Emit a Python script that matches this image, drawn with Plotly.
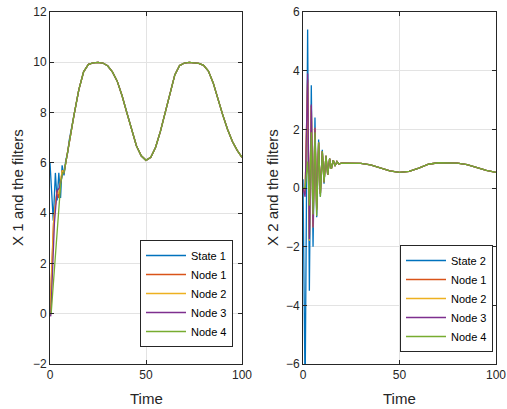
import plotly.graph_objects as go

# ---------------- data ----------------
# X1 : common smooth part after the transient
x1_tail_t = [10, 12.5, 15, 17.5, 20, 22.5, 25, 27.5, 30, 32.5, 35, 37.5, 40, 42.5, 45, 47.5,
             50, 52.5, 55, 57.5, 60, 62.5, 65, 67.5, 70, 72.5, 75, 77.5, 80, 82.5, 85, 87.5,
             90, 92.5, 95, 97.5, 100]
x1_tail_y = [6.9, 7.9, 8.9, 9.62, 9.92, 9.98, 10.0, 9.97, 9.86, 9.62, 9.25, 8.68, 8.0, 7.35,
             6.68, 6.28, 6.1, 6.22, 6.62, 7.25, 8.0, 8.76, 9.5, 9.87, 9.97, 10.0, 9.99, 9.96,
             9.88, 9.65, 9.18, 8.5, 7.9, 7.33, 6.85, 6.5, 6.22]

# X1 : early transients
x1_state_t = [0, 0.9, 1.7, 2.8, 3.7, 4.6, 5.5, 6.3, 7.3, 8.2, 9.2]
x1_state_y = [6.0, 4.5, 3.7, 5.6, 4.5, 5.6, 4.6, 5.9, 5.5, 6.1, 6.4]
x1_node1_t = [0, 1.8, 3.6, 4.6, 5.5, 6.4, 7.3, 8.2, 9.2]
x1_node1_y = [0.0, 3.6, 4.9, 4.6, 5.2, 5.7, 5.6, 6.0, 6.4]
x1_node2_t = [0, 2.0, 3.6, 4.6, 5.5, 6.4, 7.3, 8.2, 9.2]
x1_node2_y = [0.0, 3.8, 4.8, 4.8, 5.3, 5.7, 5.6, 6.0, 6.4]
x1_node3_t = [0, 0.4, 2.3, 3.7, 4.9, 5.8, 6.7, 7.3, 8.2, 9.2]
x1_node3_y = [0.0, -0.1, 3.6, 4.9, 5.0, 5.3, 5.6, 5.6, 6.0, 6.4]
x1_node4_t = [0, 0.6, 5.6, 6.6, 7.3, 8.2, 9.2]
x1_node4_y = [0.0, 0.0, 5.2, 5.6, 5.6, 6.0, 6.4]

# X2 : common smooth part after the transient
x2_tail_t = [20, 25, 30, 35, 40, 45, 50, 55, 60, 65, 70, 75, 80, 85, 90, 95, 100]
x2_tail_y = [0.85, 0.85, 0.84, 0.79, 0.68, 0.58, 0.53, 0.57, 0.68, 0.81, 0.86, 0.86, 0.85,
             0.8, 0.7, 0.6, 0.53]

# X2 : early oscillating transients
x2_trans_t = [0, 1.1, 2.4, 3.3, 4.3, 5.2, 6.2, 7.1, 8.1, 9.0, 10.0, 10.9, 11.9, 12.8, 13.8,
              14.7, 15.7, 16.6, 17.6, 18.5]
x2_state_y = [0.3, -7.0, 5.4, -3.5, 3.5, -2.0, 2.4, -1.0, 1.65, -0.3, 1.3, 0.15, 1.1, 0.45,
              1.0, 0.65, 0.95, 0.75, 0.9, 0.82]
x2_node1_y = [0.0, -0.2, 3.7, -1.7, 2.8, -1.3, 2.0, -0.75, 1.55, -0.2, 1.25, 0.2, 1.1, 0.45,
              1.0, 0.65, 0.95, 0.75, 0.9, 0.82]
x2_node2_y = [0.0, -0.2, 3.6, -1.8, 2.75, -1.35, 2.05, -0.75, 1.55, -0.2, 1.25, 0.2, 1.1,
              0.45, 1.0, 0.65, 0.95, 0.75, 0.9, 0.82]
x2_node3_y = [0.0, -0.3, 3.9, -1.75, 2.85, -1.35, 2.05, -0.7, 1.55, -0.2, 1.25, 0.2, 1.1,
              0.45, 1.0, 0.65, 0.95, 0.75, 0.9, 0.82]
x2_node4_y = [0.0, 0.0, 0.9, -0.6, 1.9, -0.9, 1.9, -0.95, 1.55, -0.3, 1.25, 0.2, 1.1, 0.45,
              1.0, 0.65, 0.95, 0.75, 0.9, 0.82]

names_left = ["State 1", "Node 1", "Node 2", "Node 3", "Node 4"]
names_right = ["State 2", "Node 1", "Node 2", "Node 3", "Node 4"]
colors = ["#0072BD", "#D95319", "#EDB120", "#7E2F8E", "#77AC30"]

left_y_ticks = [-2, 0, 2, 4, 6, 8, 10, 12]
right_y_ticks = [-6, -4, -2, 0, 2, 4, 6]
x_ticks = [0, 50, 100]

# ---------------- figure ----------------
W, H = 507, 409
fig = go.Figure()

left_sets = [(x1_state_t, x1_state_y), (x1_node1_t, x1_node1_y), (x1_node2_t, x1_node2_y),
             (x1_node3_t, x1_node3_y), (x1_node4_t, x1_node4_y)]
for (t, y), nm, c in zip(left_sets, names_left, colors):
    fig.add_trace(go.Scatter(x=t + x1_tail_t, y=y + x1_tail_y, mode="lines", name=nm,
                             line=dict(color=c, width=1.3), xaxis="x", yaxis="y",
                             legend="legend"))

right_sets = [x2_state_y, x2_node1_y, x2_node2_y, x2_node3_y, x2_node4_y]
for y, nm, c in zip(right_sets, names_right, colors):
    fig.add_trace(go.Scatter(x=x2_trans_t + x2_tail_t, y=y + x2_tail_y, mode="lines", name=nm,
                             line=dict(color=c, width=1.3), xaxis="x2", yaxis="y2",
                             legend="legend2"))

axis_common = dict(showline=True, linecolor="#262626", linewidth=1, mirror="ticks",
                   ticks="inside", ticklen=4, tickcolor="#262626", showgrid=True,
                   gridcolor="#e3e3e3", gridwidth=1, zeroline=False,
                   tickfont=dict(family="Liberation Sans, Arial", size=12, color="#262626"),
                   automargin=False)

ld = [50 / W, 242 / W]
rd = [303 / W, 496 / W]
yd = [1 - 364 / H, 1 - 12 / H]

leg_font = dict(family="Liberation Sans, Arial", size=11, color="#000000")
fig.update_layout(
    width=W, height=H, margin=dict(l=0, r=0, t=0, b=0),
    paper_bgcolor="white", plot_bgcolor="white",
    font=dict(family="Liberation Sans, Arial", color="#262626"),
    xaxis=dict(domain=ld, range=[0, 100], tickvals=x_ticks, anchor="y", **axis_common),
    yaxis=dict(domain=yd, range=[-2, 12], tickvals=left_y_ticks, anchor="x", **axis_common),
    xaxis2=dict(domain=rd, range=[0, 100], tickvals=x_ticks, anchor="y2", **axis_common),
    yaxis2=dict(domain=yd, range=[-6, 6], tickvals=right_y_ticks, anchor="x2", **axis_common),
    legend=dict(x=233 / W, y=1 - 293.5 / H, xanchor="right", yanchor="middle",
                bgcolor="white", bordercolor="#262626", borderwidth=1,
                font=leg_font, tracegroupgap=0, itemwidth=40),
    legend2=dict(x=493 / W, y=1 - 298.5 / H, xanchor="right", yanchor="middle",
                 bgcolor="white", bordercolor="#262626", borderwidth=1,
                 font=leg_font, tracegroupgap=0, itemwidth=40),
    showlegend=True,
)

title_font = dict(family="Liberation Sans, Arial", size=15, color="#262626")
ann = [
    dict(text="Time", x=146 / W, y=1 - 398 / H, xref="paper", yref="paper",
         showarrow=False, font=title_font, xanchor="center", yanchor="middle"),
    dict(text="Time", x=399 / W, y=1 - 398 / H, xref="paper", yref="paper",
         showarrow=False, font=title_font, xanchor="center", yanchor="middle"),
    dict(text="X 1 and the filters", x=17 / W, y=1 - 188 / H, xref="paper", yref="paper",
         showarrow=False, font=title_font, textangle=-90, xanchor="center", yanchor="middle"),
    dict(text="X 2 and the filters", x=272 / W, y=1 - 188 / H, xref="paper", yref="paper",
         showarrow=False, font=title_font, textangle=-90, xanchor="center", yanchor="middle"),
]
fig.update_layout(annotations=ann)

fig.write_html("out.html", config={"displayModeBar": False},
               post_script="document.body.style.margin='0px';document.body.style.padding='0px';")
